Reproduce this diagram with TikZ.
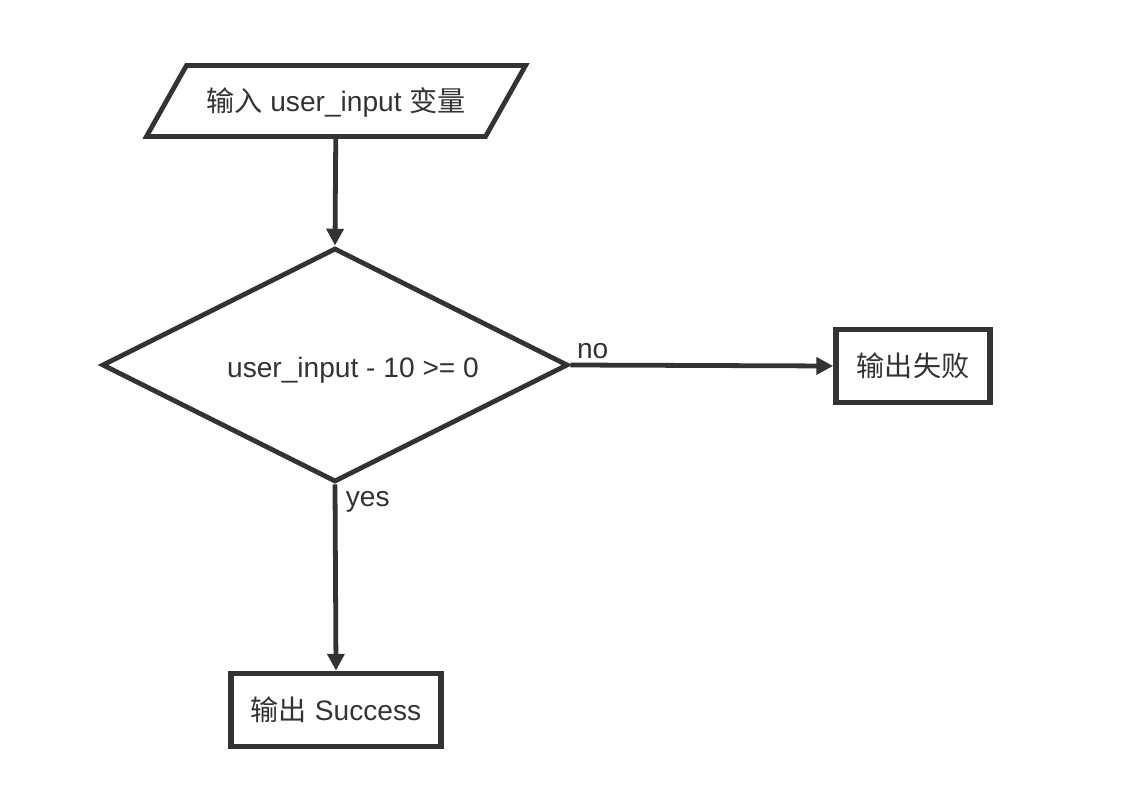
\documentclass[tikz,border=0pt]{standalone}
\usepackage{fontspec}
\setmainfont{Liberation Sans}
\newfontfamily\cjk{Noto Sans CJK SC}
\usetikzlibrary{
    shapes.geometric,
    arrows.meta
}
\definecolor{ink}{HTML}{333333}
\tikzset {
    line/.style = {draw = ink, line width = 3.4pt},
    io box/.style = {
        line, trapezium, trapezium left angle = 60.6,
        trapezium right angle = 119.4, trapezium stretches body,
        text height = 0.6cm, text depth = 0.05cm,
        inner ysep = 0.5625cm, inner xsep = 0pt,
        minimum width = 9.475cm
    },
    decision/.style = {
        line, diamond, aspect = 2, minimum width = 11.65cm,
        minimum height = 5.85cm, inner sep = 0pt,
        text height = 0.6cm, text depth = 0cm
    },
    process/.style = {
        line, line width = 4pt, rectangle,
        minimum height = 1.825cm, inner sep = 0pt
    },
    arrowed/.style = {
        line, -{Triangle[length = 0.42cm, width = 0.42cm]}
    },
    flow label/.style = {text = ink, inner sep = 3pt}
}

\begin{document}
\begin{tikzpicture}[x = 0.025cm, y = -0.025cm, text = ink,
        font = \fontsize{20}{23}\selectfont]
        \useasboundingbox (0, 0) rectangle (1138, 786);
        \node [io box] (input) at (336, 101)
            {{\cjk 输入} user\_input {\cjk 变量}};
        \node [decision] (check) at (335, 365)
            {\hspace*{0.9cm}user\_input - 10 >= 0};
        \node [process, minimum width = 3.85cm] (fail) at (913, 366)
            {\cjk 输出失败};
        \node [process, minimum width = 5.25cm] (ok) at (336, 710)
            {{\cjk 输出} Success};
        \draw [arrowed] (input) -- (check.north);
        \draw [arrowed] (check.east) -- (fail.west)
            node [flow label, pos = 0, above right] {no};
        \draw [arrowed] (check.south) -- (ok.north)
            node [flow label, pos = 0, below right, xshift = 3pt] {yes};
    \end{tikzpicture}
\end{document}
